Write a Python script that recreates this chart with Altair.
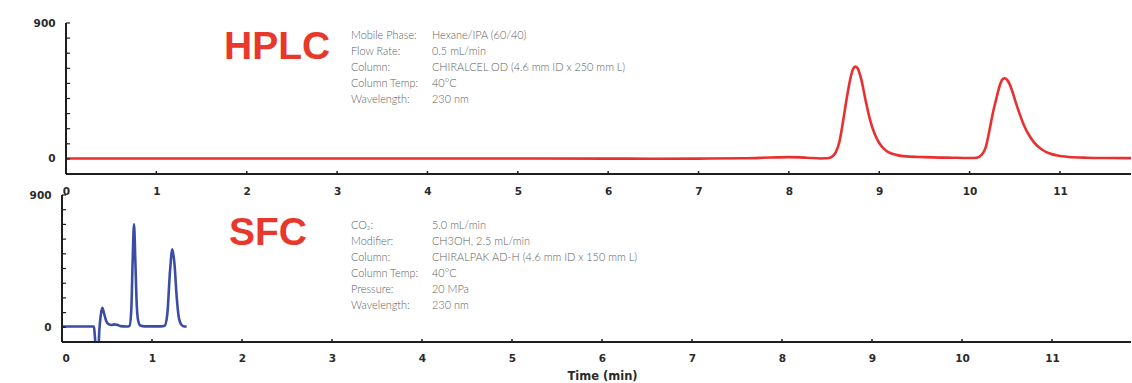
import altair as alt
import pandas as pd

# ---------------- data ----------------
hplc_time = [0, 1, 2, 3, 4, 5, 6, 6.5, 7, 7.5, 7.8, 8.0, 8.2, 8.35, 8.42, 8.47, 8.52, 8.56,
             8.60, 8.64, 8.68, 8.71, 8.735, 8.76, 8.80, 8.85, 8.90, 8.95, 9.00, 9.05, 9.10,
             9.20, 9.30, 9.50, 9.80, 10.0, 10.08, 10.13, 10.18, 10.22, 10.26, 10.30, 10.34,
             10.37, 10.39, 10.42, 10.46, 10.50, 10.55, 10.60, 10.66, 10.72, 10.80, 10.88,
             10.96, 11.1, 11.3, 11.5, 11.79]
hplc_signal = [3, 3, 3, 3, 3, 3, 2, 1, 2, 4, 9, 12, 8, 3, 4, 12, 45, 115,
               250, 400, 530, 595, 611, 600, 530, 385, 255, 165, 105, 68, 45,
               25, 17, 12, 8, 6, 8, 25, 80, 190, 310, 410, 498,
               530, 534, 520, 470, 395, 305, 225, 155, 105, 62, 37,
               24, 13, 8, 6, 5]

sfc_time = [0, 0.355, 0.365, 0.375, 0.405, 0.415, 0.43, 0.448, 0.465, 0.49, 0.52, 0.55,
            0.58, 0.61, 0.65, 0.72, 0.75, 0.77, 0.785, 0.80, 0.815, 0.83, 0.845, 0.87,
            0.92, 1.10, 1.14, 1.17, 1.20, 1.226, 1.25, 1.275, 1.30, 1.33, 1.36, 1.385]
sfc_signal = [5, 5, -60, -130, -130, -20, 80, 132, 100, 45, 20, 16,
              20, 18, 8, 5, 10, 120, 450, 700, 450, 160, 50, 12,
              6, 6, 10, 90, 380, 530, 430, 200, 60, 15, 6, 5]

x_ticks = [0, 1, 2, 3, 4, 5, 6, 7, 8, 9, 10, 11]
y_ticks = [0, 100, 200, 300, 400, 500, 600, 700, 800, 900]
y_labels = [0, 900]

hplc_info_labels = ["Mobile Phase:", "Flow Rate:", "Column:", "Column Temp:", "Wavelength:"]
hplc_info_values = ["Hexane/IPA (60/40)", "0.5 mL/min", "CHIRALCEL OD (4.6 mm ID x 250 mm L)",
                    "40°C", "230 nm"]
sfc_info_labels = ["CO₂:", "Modifier:", "Column:", "Column Temp:", "Pressure:", "Wavelength:"]
sfc_info_values = ["5.0 mL/min", "CH3OH, 2.5 mL/min", "CHIRALPAK AD-H (4.6 mm ID x 150 mm L)",
                   "40°C", "20 MPa", "230 nm"]

AXIS_COLOR = "#1e1e1e"
TITLE_FONT = "Liberation Sans"
LABEL_FONT = "DejaVu Sans"
INFO_FONT = "Lato"


def panel(time, signal, color, xdom, tmax, height, width, name, name_x, name_y,
          info_labels, info_values, info_y, ylab_pad, xlab_pad, xtitle):
    xs = alt.Scale(domain=xdom, nice=False, zero=False)
    ys = alt.Scale(domain=[-100, 900], nice=False, zero=False)
    if xtitle:
        xaxis = alt.Axis(values=x_ticks, format="d", domain=False, ticks=False, grid=False,
                         labelPadding=xlab_pad, title=xtitle, titlePadding=7,
                         titleX=540, titleAlign="center")
    else:
        xaxis = alt.Axis(values=x_ticks, format="d", domain=False, ticks=False, grid=False,
                         labelPadding=xlab_pad, title=None)
    yaxis = alt.Axis(values=y_labels, format="d", title=None, domain=False, ticks=False,
                     grid=False, labelPadding=ylab_pad)
    df = pd.DataFrame({"t": time, "s": signal})
    line = alt.Chart(df).mark_line(color=color, strokeWidth=2.6, interpolate="monotone",
                                   clip=True).encode(
        x=alt.X("t:Q", scale=xs, axis=xaxis),
        y=alt.Y("s:Q", scale=ys, axis=yaxis),
    )
    # axis lines
    xline = alt.Chart(pd.DataFrame({"t": [0], "t2": [tmax], "s": [-100]})).mark_rule(
        color=AXIS_COLOR, strokeWidth=2).encode(
        x=alt.X("t:Q", scale=xs, axis=xaxis), x2="t2:Q",
        y=alt.Y("s:Q", scale=ys, axis=yaxis))
    yline = alt.Chart(pd.DataFrame({"t": [0], "s": [-100], "s2": [900]})).mark_rule(
        color=AXIS_COLOR, strokeWidth=2).encode(
        x=alt.X("t:Q", scale=xs, axis=xaxis),
        y=alt.Y("s:Q", scale=ys, axis=yaxis), y2="s2:Q")
    # inward ticks
    xt = alt.Chart(pd.DataFrame({"t": x_ticks[1:]})).mark_rule(
        color=AXIS_COLOR, strokeWidth=1.5).encode(
        x=alt.X("t:Q", scale=xs, axis=xaxis), y=alt.value(height), y2=alt.value(height - 3))
    yt = alt.Chart(pd.DataFrame({"s": y_ticks, "t": [0] * len(y_ticks),
                                 "t2": [0.045] * len(y_ticks)})).mark_rule(
        color=AXIS_COLOR, strokeWidth=1.2).encode(
        y=alt.Y("s:Q", scale=ys, axis=yaxis),
        x=alt.X("t:Q", scale=xs, axis=xaxis), x2="t2:Q")
    title = alt.Chart(pd.DataFrame({"k": [0]})).mark_text(
        text=name, font=TITLE_FONT, fontSize=39, fontWeight="bold", color="#e8382b",
        align="left", baseline="middle").encode(x=alt.value(name_x), y=alt.value(name_y))
    lab = alt.Chart(pd.DataFrame({"k": [0]})).mark_text(
        text=info_labels, font=INFO_FONT, fontSize=10.9, fontWeight=300, color="#606060",
        align="left", baseline="top", lineHeight=16).encode(
        x=alt.value(289), y=alt.value(info_y))
    val = alt.Chart(pd.DataFrame({"k": [0]})).mark_text(
        text=info_values, font=INFO_FONT, fontSize=10.9, fontWeight=300, color="#606060",
        align="left", baseline="top", lineHeight=16).encode(
        x=alt.value(370), y=alt.value(info_y))
    return alt.layer(line, xline, yline, xt, yt, title, lab, val).properties(
        width=width, height=height)


W = 1069
top = panel(hplc_time, hplc_signal, "#e8302f", [-4 / 90.36, 1065 / 90.36], 1065 / 90.36, 151, W,
            "HPLC", 162, 24, hplc_info_labels, hplc_info_values, 7, 7, 12, None)
bottom = panel(sfc_time, sfc_signal, "#3a4ca6", [0, W / 90.0], W / 90.0, 147, W,
               "SFC", 167, 38, sfc_info_labels, sfc_info_values, 25, 11, 11, "Time (min)")

chart = alt.vconcat(top, bottom, spacing=21, bounds="flush").properties(
    padding={"left": 29, "top": 18, "right": 0, "bottom": 0},
    background="white",
).configure_view(stroke=None).configure_axis(
    labelFont=LABEL_FONT, labelFontSize=10.5, labelFontWeight="bold", labelColor="#2a2a2a",
    titleFont=LABEL_FONT, titleFontSize=11.5, titleFontWeight="bold", titleColor="#2a2a2a",
)

chart.save("out.html", embed_options={"renderer": "svg", "actions": False})
